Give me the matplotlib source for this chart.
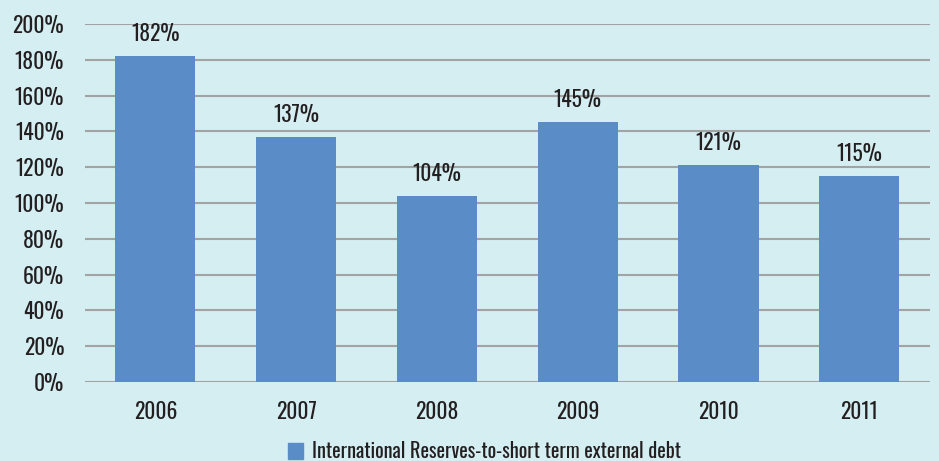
import matplotlib.pyplot as plt
from matplotlib.patches import Patch

years = ['2006', '2007', '2008', '2009', '2010', '2011']
ratio = [182, 137, 104, 145, 121, 115]
series_name = 'International Reserves-to-short term external debt'

bg = '#d5eef2'
bar_color = '#5a8cc8'
text_color = '#231f20'

plt.rcParams['font.family'] = ['Oswald', 'DejaVu Sans']
plt.rcParams['font.weight'] = 'medium'

fig = plt.figure(figsize=(9.39, 4.61), dpi=100, facecolor=bg)
ax = fig.add_axes([0.0905, 0.1714, 0.8995, 0.7766])
ax.set_facecolor(bg)

x = range(len(years))
ax.bar(x, ratio, width=0.57, color=bar_color, zorder=3)
for xi, v in zip(x, ratio):
    ax.annotate(f'{v}%', (xi, v), xytext=(0, 8), textcoords='offset points',
                ha='center', va='bottom', fontsize=15.5, color=text_color)

ax.set_ylim(0, 200)
ax.set_xlim(-0.5, len(years) - 0.5)
ax.set_yticks(range(0, 201, 20))
ax.set_yticklabels([f'{t}%' for t in range(0, 201, 20)])
ax.set_xticks(list(x))
ax.set_xticklabels(years)
ax.tick_params(axis='both', length=0, labelsize=15.5, colors=text_color)
ax.tick_params(axis='y', pad=15)
ax.tick_params(axis='x', pad=14)

ax.grid(axis='y', color='#a3a3a3', linewidth=1.5, zorder=0)
for s in ax.spines.values():
    s.set_visible(False)

leg = fig.legend(handles=[Patch(color=bar_color, label=series_name)],
                 loc='lower center', bbox_to_anchor=(0.516, -0.04), frameon=False,
                 handlelength=0.7, handleheight=0.8, handletextpad=0.45,
                 prop={'size': 14.6, 'weight': 'medium'})
for t in leg.get_texts():
    t.set_color(text_color)

fig.savefig('out.png', dpi=100, facecolor=bg)
